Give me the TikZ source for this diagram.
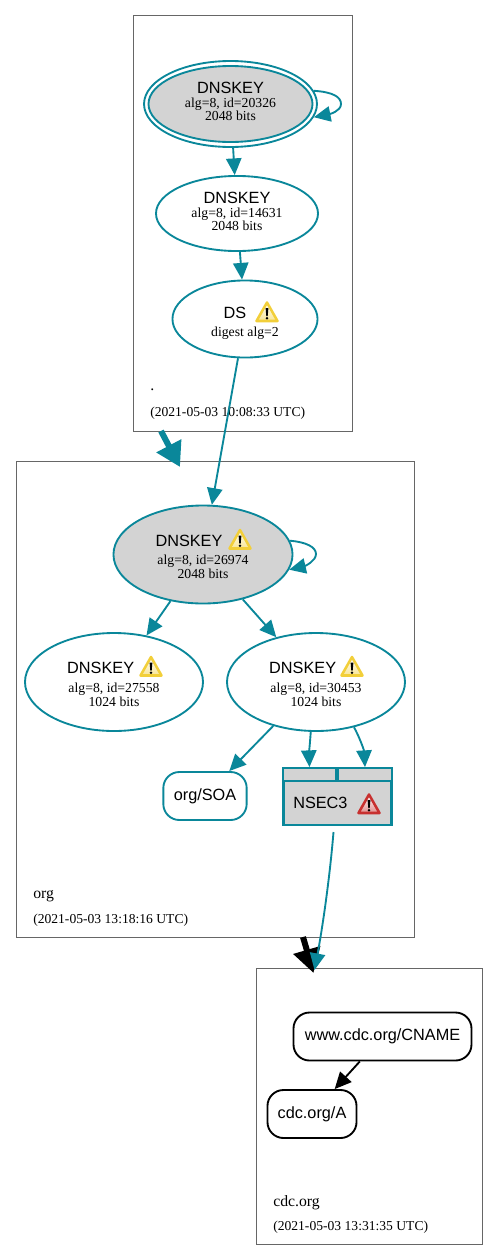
\documentclass[tikz,border=0pt]{standalone}
\usepackage{fontspec}
\setmainfont{Liberation Serif}
\setsansfont{Liberation Sans}
\usetikzlibrary{arrows.meta,shapes.geometric}
\definecolor{dnsteal}{HTML}{0A879A}
\definecolor{warnyellow}{HTML}{F2CF3A}
\definecolor{warnred}{HTML}{C8302F}
\definecolor{keygray}{HTML}{D3D3D3}
\newcommand{\rrname}[1]{{\sffamily\fontsize{12.2pt}{13pt}\selectfont #1}}
\newcommand{\rrinfo}[1]{{\fontsize{10.3pt}{12.5pt}\selectfont #1}}
\tikzset{
    zonebox/.style={draw=black!60, line width=0.7pt, inner sep=0pt},
    zonelabel/.style={anchor=west, inner sep=0pt, font=\fontsize{11.8pt}{13pt}\selectfont},
    zonedate/.style={anchor=west, inner sep=0pt, font=\fontsize{10.2pt}{12pt}\selectfont},
    keynode/.style={ellipse, draw=dnsteal, line width=1.4pt, inner sep=0pt, align=center},
    rrnode/.style={rectangle, rounded corners=12pt, line width=1.4pt, inner sep=0pt},
    nsecpart/.style={rectangle, draw=dnsteal, fill=keygray, inner sep=0pt},
    tealedge/.style={draw=dnsteal, line width=1.4pt, -{Triangle[length=12.5pt,width=11.5pt]}},
    blackedge/.style={draw=black, line width=1.4pt, -{Triangle[length=12.5pt,width=11.5pt]}},
    warnicon/.pic={
        \draw[top color=white, bottom color=#1!55, draw=#1, line width=1.9pt, line join=round] (-10.5,9) -- (0,-9.5) -- (10.5,9) -- cycle;
        \fill[black] (-1.4,-4) -- (1.4,-4) -- (0.7,4) -- (-0.7,4) -- cycle;
        \fill[black] (0,6.3) circle (1.4);
    }
}
\begin{document}
\begin{tikzpicture}[x=0.75pt, y=-0.75pt]
        \useasboundingbox (0,0) rectangle (499,1260);

        \node[zonebox, minimum width=163.9pt, minimum height=311.6pt] (rootzone) at (242.75,223.25) {};
        \node[zonebox, minimum width=298.9pt, minimum height=357.4pt] (orgzone) at (215.25,699.25) {};
        \node[zonebox, minimum width=169.9pt, minimum height=207pt] (cdczone) at (369.25,1106) {};

        \node[zonelabel] (rootname) at (150,390) {.};
        \node[zonedate] (rootdate) at (150,413) {(2021-05-03 10:08:33 UTC)};
        \node[zonelabel] (orgname) at (33,896) {org};
        \node[zonedate] (orgdate) at (33,920) {(2021-05-03 13:18:16 UTC)};
        \node[zonelabel] (cdcname) at (273,1203) {cdc.org};
        \node[zonedate] (cdcdate) at (273,1227) {(2021-05-03 13:31:35 UTC)};

        \node[keynode, minimum width=129.7pt, minimum height=64.5pt] (rootksk) at (230.5,104) {};
        \node[keynode, text depth=3.8pt, fill=keygray, minimum width=123pt, minimum height=57pt] (rootkskin) at (230.5,104) {\rrname{DNSKEY}\\[-1.5pt]\rrinfo{alg=8, id=20326}\\[-2.25pt]\rrinfo{2048 bits}};
        \node[keynode, text depth=3.8pt, minimum width=121.5pt, minimum height=56.3pt] (rootzsk) at (237,213.5) {\rrname{DNSKEY}\\[-1.5pt]\rrinfo{alg=8, id=14631}\\[-2.25pt]\rrinfo{2048 bits}};
        \node[keynode, text depth=3pt, minimum width=108.8pt, minimum height=57.8pt] (rootds) at (245,319) {\rule{0pt}{16pt}\rrname{DS}\hspace*{15pt}\\[1.8pt]\rrinfo{digest alg=2}};
        \node[keynode, fill=keygray, minimum width=134.3pt, minimum height=73.5pt] (orgksk) at (203,554.5) {\rule{0pt}{12pt}\rrname{DNSKEY}\hspace*{21pt}\\[1.75pt]\rrinfo{alg=8, id=26974}\\[-1.5pt]\rrinfo{2048 bits}};
        \node[keynode, minimum width=133.5pt, minimum height=73.5pt] (orgzska) at (114,682) {\rule{0pt}{12pt}\rrname{DNSKEY}\hspace*{20pt}\\[1.75pt]\rrinfo{alg=8, id=27558}\\[-1.5pt]\rrinfo{1024 bits}};
        \node[keynode, minimum width=133.5pt, minimum height=73.5pt] (orgzskb) at (316,682) {\rule{0pt}{12pt}\rrname{DNSKEY}\hspace*{20pt}\\[1.75pt]\rrinfo{alg=8, id=30453}\\[-1.5pt]\rrinfo{1024 bits}};

        \node[rrnode, draw=dnsteal, minimum width=62.5pt, minimum height=36pt] (orgsoa) at (205,796) {\rrname{org/SOA}};
        \node[rrnode, draw=black, minimum width=133.5pt, minimum height=36pt] (wwwcname) at (382.5,1036.5) {\rrname{www.cdc.org/CNAME}};
        \node[rrnode, draw=black, minimum width=66.8pt, minimum height=36pt] (cdca) at (312,1114) {\rrname{cdc.org/A}};

        \node[nsecpart, line width=2.1pt, minimum width=81pt, minimum height=42.6pt] (nsecbox) at (337.5,796.5) {};
        \node[nsecpart, line width=1.4pt, minimum width=40pt, minimum height=9.8pt] (nsecleft) at (309.5,774.5) {};
        \node[nsecpart, line width=1.4pt, minimum width=40pt, minimum height=9.8pt] (nsecright) at (365,774.5) {};
        \node[anchor=west, inner sep=0pt] (nseclabel) at (293,803) {\rrname{NSEC3}};

        \pic at (267,312) {warnicon=warnyellow};
        \pic at (240,539.5) {warnicon=warnyellow};
        \pic at (151,666.5) {warnicon=warnyellow};
        \pic at (352,666.5) {warnicon=warnyellow};
        \pic at (369,804) {warnicon=warnred};

        \draw[tealedge] (rootksk.9.6) .. controls (333,92) and (341,97) .. (341,104) .. controls (341,111) and (330,114) .. (rootksk.-9);
        \draw[tealedge] (rootksk) -- (rootzsk);
        \draw[tealedge] (rootzsk) -- (rootds);
        \draw[tealedge] (rootds) -- (orgksk);
        \draw[tealedge] (orgksk.9) .. controls (306,542) and (316,547) .. (316,554) .. controls (316,561) and (305,566) .. (orgksk.-10);
        \draw[tealedge] (orgksk) -- (orgzska);
        \draw[tealedge] (orgksk) -- (orgzskb);
        \draw[tealedge] (orgzskb) -- (orgsoa);
        \draw[tealedge] (orgzskb.-96) .. controls (310,742) and (309,755) .. (nsecleft.north);
        \draw[tealedge] (orgzskb.-50) .. controls (359,736) and (364,750) .. (nsecright.north);
        \draw[blackedge] (wwwcname) -- (cdca);

        \coordinate (rootout) at (161,431);
        \coordinate (orgin) at (180,467);
        \coordinate (orgout) at (303,937);
        \coordinate (cdcin) at (313.5,973);
        \coordinate (nsecout) at (333.5,832);
        \coordinate (cdcnsec) at (314.5,970);

        \draw[dnsteal, line width=4.5pt, -{Triangle[length=18pt,width=20pt]}] (rootout) -- (orgin);
        \draw[black, line width=4.5pt, -{Triangle[length=18pt,width=20pt]}] (orgout) -- (cdcin);
        \draw[tealedge] (nsecout) .. controls (330,875) and (323,925) .. (cdcnsec);
\end{tikzpicture}
\end{document}
